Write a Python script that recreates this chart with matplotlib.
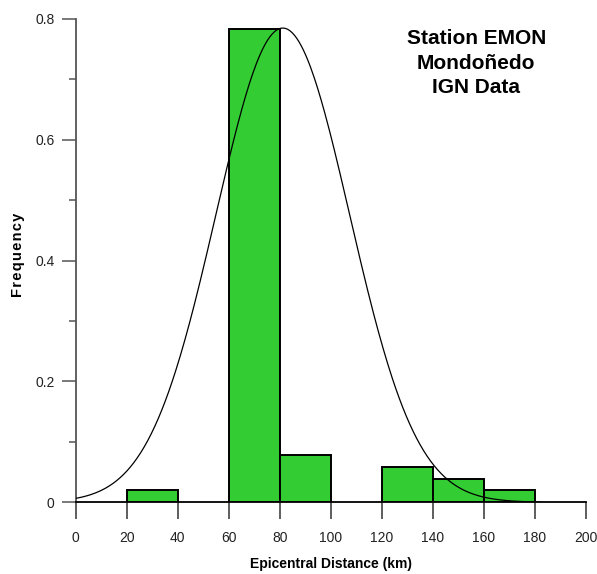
import numpy as np
import matplotlib
matplotlib.use("Agg")
import matplotlib.pyplot as plt
from matplotlib.ticker import MultipleLocator, FuncFormatter

plt.rcParams['font.family'] = ['Liberation Sans', 'DejaVu Sans']

# histogram bins (km) and relative frequencies
bin_left = [20, 60, 80, 120, 140, 160]
bin_width = 20
freq = [0.0196, 0.784, 0.078, 0.0588, 0.039, 0.0196]

# fitted normal curve parameters
fit_mean = 81.2
fit_sigma = 26.2
fit_peak = 0.785
fit_range = (0, 182)

fig = plt.figure(figsize=(5.97, 5.74), dpi=100)
ax = fig.add_axes([0.1265, 0.1249, 0.9816 - 0.1265, 0.9669 - 0.1249])

ax.bar(bin_left, freq, width=bin_width, align='edge', color='#33cc33',
       edgecolor='black', linewidth=1.4, zorder=2)

xs = np.linspace(fit_range[0], fit_range[1], 400)
ys = fit_peak * np.exp(-(xs - fit_mean) ** 2 / (2 * fit_sigma ** 2))
ax.plot(xs, ys, color='black', linewidth=0.9, zorder=3)

ax.set_xlim(0, 200)
ax.set_ylim(0, 0.8)
for s in ['top', 'right']:
    ax.spines[s].set_visible(False)
ax.spines['left'].set_color('#555555')
ax.spines['left'].set_linewidth(1.3)
ax.spines['bottom'].set_color('black')
ax.spines['bottom'].set_linewidth(1.3)

ax.xaxis.set_major_locator(MultipleLocator(20))
ax.yaxis.set_major_locator(MultipleLocator(0.2))
ax.yaxis.set_minor_locator(MultipleLocator(0.1))
ax.yaxis.set_major_formatter(FuncFormatter(lambda v, p: '0' if v == 0 else f'{v:.1f}'))
ax.tick_params(axis='x', which='major', length=12, width=1.1, color='#333333',
               pad=9, labelsize=10, labelcolor='#222222')
ax.tick_params(axis='y', which='major', length=10, width=1.1, color='#555555',
               pad=5, labelsize=10, labelcolor='#222222')
ax.tick_params(axis='y', which='minor', length=5, width=1.1, color='#555555')

ax.set_xlabel('Epicentral Distance (km)', fontsize=10, fontweight='bold')
ax.xaxis.set_label_coords(0.5, -0.113)
ax.set_ylabel('\u200a'.join('Frequency'), fontsize=10.5, fontweight='bold')
ax.yaxis.set_label_coords(-0.099, 0.511)

ax.text(0.785, 0.979, 'Station EMON\nMondoñedo\nIGN Data', transform=ax.transAxes,
        ha='center', va='top', fontsize=15, fontweight='bold', linespacing=1.36)

fig.savefig('out.png', dpi=100, facecolor='white')
